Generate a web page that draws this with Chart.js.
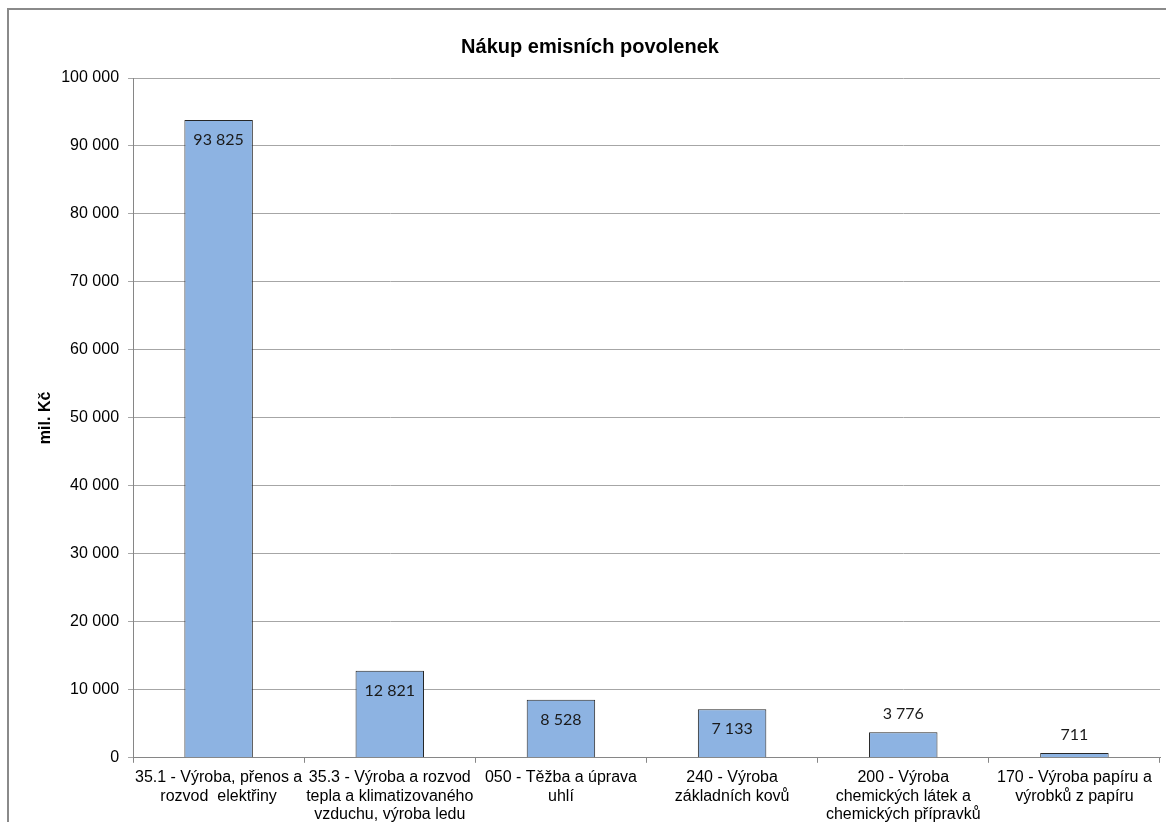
<!DOCTYPE html>
<html>
<head>
<meta charset="utf-8">
<script src="https://cdn.jsdelivr.net/npm/chart.js@4.4.0/dist/chart.umd.min.js"></script>
<style>
  html, body { margin: 0; padding: 0; overflow: hidden; background: #fff; }
  #frame { position: absolute; left: 7px; top: 8px; width: 1300px; height: 900px; border: 2px solid #8a8a8a; }
  #wrap { position: absolute; left: 0; top: 0; width: 1256px; height: 830px; }
</style>
</head>
<body>
<div id="frame"></div>
<div id="wrap"><canvas id="chart" width="1256" height="830"></canvas></div>
<script>
// Nákup emisních povolenek podle odvětví (mil. Kč)
const categories = [
  ["35.1 - Výroba, přenos a", "rozvod  elektřiny"],
  ["35.3 - Výroba a rozvod", "tepla a klimatizovaného", "vzduchu, výroba ledu"],
  ["050 - Těžba a úprava", "uhlí"],
  ["240 - Výroba", "základních kovů"],
  ["200 - Výroba", "chemických látek a", "chemických přípravků"],
  ["170 - Výroba papíru a", "výrobků z papíru"]
]
const values = [93825, 12821, 8528, 7133, 3776, 711]
const yTicks = [0, 10000, 20000, 30000, 40000, 50000, 60000, 70000, 80000, 90000, 100000]

function fmt(v) {
  return String(v).replace(/\B(?=(\d{3})+(?!\d))/g, ' ')
}

// hodnoty nad sloupci / uvnitř sloupců
const valueLabels = {
  id: 'valueLabels',
  afterDatasetsDraw(chart) {
    const ctx = chart.ctx
    const meta = chart.getDatasetMeta(0)
    ctx.save()
    ctx.font = '16px Lato'
    ctx.fillStyle = '#1a1a1a'
    ctx.textAlign = 'center'
    ctx.textBaseline = 'middle'
    meta.data.forEach((bar, i) => {
      const h = bar.base - bar.y
      const y = h > 35 ? bar.y + 20 : bar.y - 18
      ctx.fillText(fmt(values[i]), bar.x, y)
    })
    ctx.restore()
  }
}

const ctx = document.getElementById('chart').getContext('2d')
new Chart(ctx, {
  type: 'bar',
  data: {
    labels: categories,
    datasets: [{
      data: values,
      backgroundColor: '#8db3e2',
      borderColor: '#262626',
      borderWidth: 1,
      categoryPercentage: 1,
      barPercentage: 0.4
    }]
  },
  options: {
    responsive: false,
    animation: false,
    layout: { padding: { left: 20, right: 96, top: 35, bottom: 0 } },
    plugins: {
      legend: { display: false },
      tooltip: { enabled: false },
      title: {
        display: true,
        text: 'Nákup emisních povolenek',
        color: '#000',
        font: { family: 'Liberation Sans', size: 20, weight: 'bold', lineHeight: 1.2 },
        padding: { top: 0, bottom: 19 }
      }
    },
    scales: {
      x: {
        grid: { offset: true, drawOnChartArea: false, color: '#868686', tickLength: 5 },
        border: { color: '#868686' },
        ticks: {
          color: '#000',
          font: { family: 'Liberation Sans', size: 16, lineHeight: 1.15 },
          maxRotation: 0,
          autoSkip: false,
          padding: 6
        }
      },
      y: {
        min: 0,
        max: 100000,
        afterBuildTicks: (axis) => { axis.ticks = yTicks.map(v => ({ value: v })) },
        grid: { color: '#a6a6a6', tickLength: 5 },
        border: { color: '#868686' },
        ticks: {
          color: '#000',
          font: { family: 'Liberation Sans', size: 16 },
          padding: 9,
          callback: (v) => fmt(v)
        },
        title: {
          display: true,
          text: 'mil. Kč',
          color: '#000',
          font: { family: 'Liberation Sans', size: 16, weight: 'bold', lineHeight: 1.2 },
          padding: { top: 16, bottom: -3 }
        }
      }
    }
  },
  plugins: [valueLabels]
})
</script>
</body>
</html>
